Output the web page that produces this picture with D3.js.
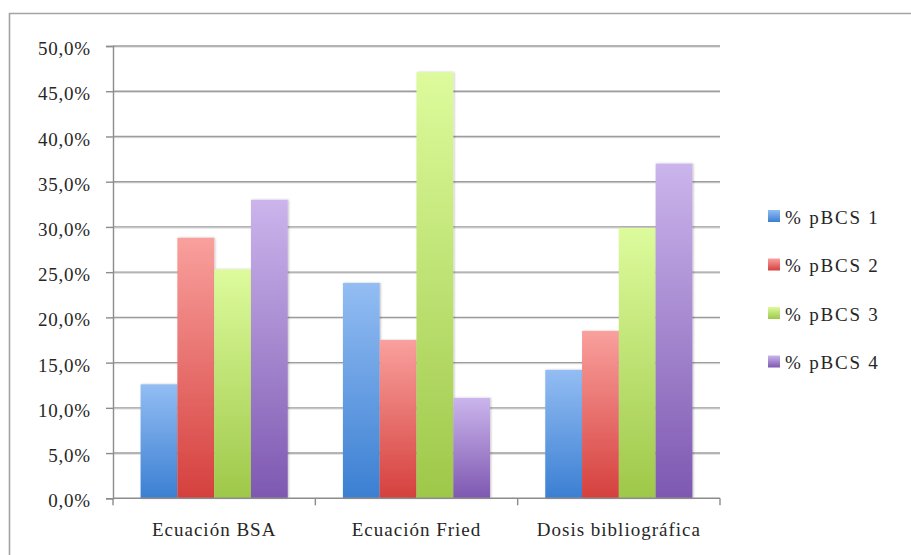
<!DOCTYPE html>
<html>
<head>
<meta charset="utf-8">
<script src="https://cdn.jsdelivr.net/npm/d3@7"></script>
<style>
  html, body { margin: 0; padding: 0; background: #fff; }
  svg { display: block; }
  svg text { font-family: "Liberation Serif", "DejaVu Serif", "Noto Serif", "Times New Roman", serif; fill: #262626; }
</style>
</head>
<body>
<svg id="chart" width="911" height="555"></svg>
<script>
// Categories, series and values (fractions)
const categories = ["Ecuación BSA", "Ecuación Fried", "Dosis bibliográfica"];
const seriesNames = ["% pBCS 1", "% pBCS 2", "% pBCS 3", "% pBCS 4"];
const pbcs1 = [0.126, 0.238, 0.142];
const pbcs2 = [0.288, 0.175, 0.185];
const pbcs3 = [0.253, 0.471, 0.299];
const pbcs4 = [0.330, 0.111, 0.370];
const yTicks = [0, 0.05, 0.10, 0.15, 0.20, 0.25, 0.30, 0.35, 0.40, 0.45, 0.50];

const seriesValues = [pbcs1, pbcs2, pbcs3, pbcs4];
const colors = [
  { top: "#93bdf3", bottom: "#3b7fd2" },
  { top: "#f9a09d", bottom: "#d5403d" },
  { top: "#ddfb9c", bottom: "#9ec849" },
  { top: "#cbb5ec", bottom: "#7e58b1" }
];

const svg = d3.select("#chart");
const margin = { left: 113, right: 720, top: 46, bottom: 498.3 };

// Outer frame
svg.append("path")
  .attr("d", "M9.5,560 L9.5,13.5 L915,13.5")
  .attr("fill", "none")
  .attr("stroke", "#a3a3a3")
  .attr("stroke-width", 1.6);

const y = d3.scaleLinear().domain([0, 0.5]).range([margin.bottom, margin.top]);
const x0 = d3.scaleBand().domain(categories).range([margin.left, margin.right]).padding(0);
const x1 = d3.scaleBand().domain(seriesNames).range([0, x0.bandwidth()])
  .paddingInner(0).paddingOuter(0.75);

const locale = d3.formatLocale({ decimal: ",", thousands: ".", grouping: [3], currency: ["", "€"] });
const fmt = locale.format(".1%");

// Gradients
const defs = svg.append("defs");
colors.forEach((c, i) => {
  const g = defs.append("linearGradient")
    .attr("id", "grad" + i)
    .attr("x1", 0).attr("y1", 0).attr("x2", 0).attr("y2", 1);
  g.append("stop").attr("offset", "0%").attr("stop-color", c.top);
  g.append("stop").attr("offset", "100%").attr("stop-color", c.bottom);
});
const shadow = defs.append("filter").attr("id", "barShadow")
  .attr("x", "-20%").attr("y", "-5%").attr("width", "140%").attr("height", "110%");
shadow.append("feGaussianBlur").attr("in", "SourceAlpha").attr("stdDeviation", 1.2).attr("result", "b");
shadow.append("feOffset").attr("in", "b").attr("dx", 1.2).attr("dy", 0).attr("result", "o");
shadow.append("feComponentTransfer").attr("in", "o").attr("result", "s")
  .append("feFuncA").attr("type", "linear").attr("slope", 0.25);
const merge = shadow.append("feMerge");
merge.append("feMergeNode").attr("in", "s");
merge.append("feMergeNode").attr("in", "SourceGraphic");

// Gridlines
const grid = svg.append("g");
grid.selectAll("line.shade")
  .data(yTicks.filter(d => d > 0))
  .join("line")
  .attr("class", "shade")
  .attr("x1", margin.left).attr("x2", margin.right)
  .attr("y1", d => y(d) + 1.2).attr("y2", d => y(d) + 1.2)
  .attr("stroke", "#dcdcdc").attr("stroke-width", 1);
grid.selectAll("line.main")
  .data(yTicks.filter(d => d > 0))
  .join("line")
  .attr("class", "main")
  .attr("x1", margin.left).attr("x2", margin.right)
  .attr("y1", d => y(d)).attr("y2", d => y(d))
  .attr("stroke", "#9c9c9c").attr("stroke-width", 1.4);

// Y axis
const yAxis = svg.append("g")
  .attr("transform", `translate(${margin.left},0)`)
  .call(d3.axisLeft(y).tickValues(yTicks).tickFormat(fmt).tickSize(7).tickPadding(15));
yAxis.attr("font-family", null).attr("font-size", 19);
yAxis.select(".domain").attr("stroke", "#8c8c8c").attr("stroke-width", 1.4);
yAxis.selectAll(".tick line").attr("stroke", "#8c8c8c").attr("stroke-width", 1.4);
yAxis.selectAll(".tick text")
  .attr("fill", "#262626")
  .attr("letter-spacing", 0.8)
  .attr("dy", "0.45em");

// Bars
const groups = svg.append("g").selectAll("g")
  .data(categories)
  .join("g")
  .attr("transform", d => `translate(${x0(d)},0)`);

groups.selectAll("rect")
  .data((c, ci) => seriesNames.map((s, si) => ({ s, si, v: seriesValues[si][ci] })))
  .join("rect")
  .attr("x", d => x1(d.s))
  .attr("y", d => y(d.v))
  .attr("width", x1.bandwidth())
  .attr("height", d => y(0) - y(d.v))
  .attr("fill", d => `url(#grad${d.si})`)
  .attr("filter", "url(#barShadow)");

// X axis
const xAxis = svg.append("g")
  .attr("transform", `translate(0,${margin.bottom})`)
  .call(d3.axisBottom(x0).tickSize(0).tickPadding(24));
xAxis.attr("font-family", null).attr("font-size", 19);
xAxis.select(".domain").remove();
xAxis.append("line")
  .attr("x1", margin.left).attr("x2", margin.right)
  .attr("y1", 0).attr("y2", 0)
  .attr("stroke", "#8c8c8c").attr("stroke-width", 1.4);
xAxis.selectAll("line.sep")
  .data([margin.left, ...categories.map(c => x0(c) + x0.bandwidth())])
  .join("line")
  .attr("class", "sep")
  .attr("x1", d => d).attr("x2", d => d)
  .attr("y1", 0).attr("y2", 7)
  .attr("stroke", "#8c8c8c").attr("stroke-width", 1.4);
xAxis.selectAll(".tick text")
  .attr("fill", "#262626")
  .attr("letter-spacing", 1.0);

// Legend
const legend = svg.append("g").attr("transform", "translate(768,210)");
const items = legend.selectAll("g")
  .data(seriesNames)
  .join("g")
  .attr("transform", (d, i) => `translate(0,${i * 48.5})`);
items.append("rect")
  .attr("width", 12).attr("height", 12)
  .attr("fill", (d, i) => `url(#grad${i})`);
items.append("text")
  .attr("x", 17).attr("y", 6)
  .attr("dy", "0.4em")
  .attr("font-size", 19)
  .attr("letter-spacing", 1.8)
  .text(d => d);
</script>
</body>
</html>
